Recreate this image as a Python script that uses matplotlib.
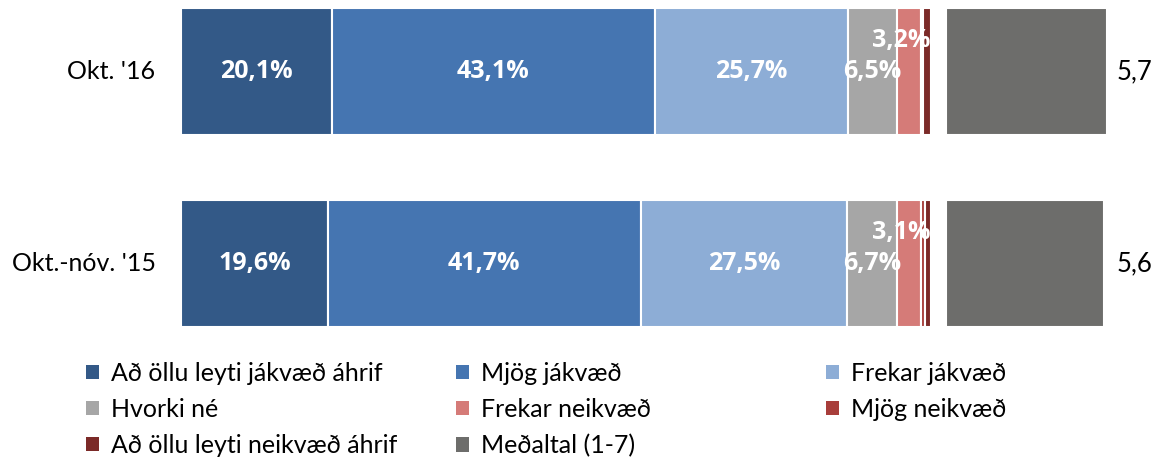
import matplotlib
matplotlib.use("Agg")
import matplotlib.pyplot as plt
from matplotlib.patches import Patch
import numpy as np

plt.rcParams['font.family'] = ['Lato', 'DejaVu Sans']

# data
periods = ["Okt. '16", "Okt.-nóv. '15"]
categories = ["Að öllu leyti jákvæð áhrif", "Mjög jákvæð", "Frekar jákvæð",
              "Hvorki né", "Frekar neikvæð", "Mjög neikvæð",
              "Að öllu leyti neikvæð áhrif"]
shares = [
    [20.1, 43.1, 25.7, 6.5, 3.2, 0.3, 1.1],
    [19.6, 41.7, 27.5, 6.7, 3.1, 0.6, 0.8],
]
means = [5.7, 5.6]
colors = ["#335987", "#4575B1", "#8DADD6", "#A6A6A6", "#D57B78", "#A83E3B", "#7B2A28"]
mean_color = "#6D6D6B"

W, H = 1165, 457
fig = plt.figure(figsize=(W / 100, H / 100), dpi=100)

# px per category unit, bar top edges at 8 and 200 px
unit = 192.0
bh = 127 / unit
y0 = -bh / 2 - 8 / unit
y1 = y0 + H / unit

ax = fig.add_axes([181 / W, 0, 750 / W, 1])
ax2 = fig.add_axes([946 / W, 0, 162 / W, 1])
for a in (ax, ax2):
    a.set_ylim(y1, y0)
    a.axis('off')
ax.set_xlim(0, 100)
ax2.set_xlim(0, means[0] + 0.05)

bold = dict(color='white', fontsize=18, fontweight='bold',
            family=['Open Sans', 'DejaVu Sans'])
ypos = np.arange(len(periods))
for i, row in enumerate(shares):
    left = 0
    for j, v in enumerate(row):
        ax.barh(ypos[i], v, left=left, height=bh, color=colors[j],
                edgecolor='white', linewidth=1.5)
        cx = left + v / 2
        if v >= 5:
            ax.text(cx, ypos[i], f"{v:.1f}%".replace('.', ','), ha='center',
                    va='center', **bold)
        elif v >= 2:
            ax.text(cx - 1, ypos[i] - 0.16, f"{v:.1f}%".replace('.', ','),
                    ha='center', va='center', **bold)
        left += v
    ax.text(-3.4, ypos[i], periods[i], ha='right', va='center', fontsize=18)

ax2.barh(ypos, means, height=bh, color=mean_color, edgecolor='white', linewidth=1.5)
for i, m in enumerate(means):
    ax2.text(means[0] + 0.35, ypos[i], f"{m:.1f}".replace('.', ','),
             ha='left', va='center', fontsize=18.5)

handles = [Patch(facecolor=c, edgecolor='none') for c in colors]
handles.append(Patch(facecolor=mean_color, edgecolor='none'))
labels = categories + ["Meðaltal (1-7)"]
# one legend per column, rows fill across
col_x = [86, 456, 826]
for c in range(3):
    idx = list(range(c, len(labels), 3))
    fig.legend([handles[k] for k in idx], [labels[k] for k in idx],
               loc='upper left', bbox_to_anchor=(col_x[c] / W, 1 - 362 / H),
               frameon=False, fontsize=18, handlelength=0.5, handleheight=0.5,
               handletextpad=0.5, labelspacing=0.52, borderaxespad=0,
               borderpad=0)

fig.savefig("out.png", dpi=100)
